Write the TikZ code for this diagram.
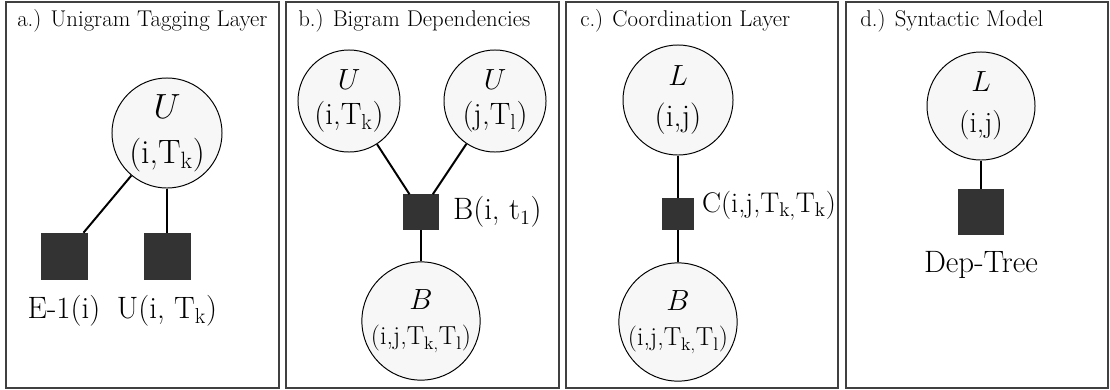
\documentclass[tikz,border=0pt]{standalone}
\usepackage{fontspec}
\usepackage{tikz}
\usetikzlibrary{positioning}

\tikzset{
	var/.style={circle,draw=black,line width=0.7pt,fill=black!3,inner sep=0pt,align=center},
	factor/.style={rectangle,draw=black!80,fill=black!80,inner sep=0pt},
	edge/.style={line width=1.4pt},
	panel/.style={draw=black!75,line width=1.1pt},
	ttl/.style={anchor=west,inner sep=0pt,font=\fontsize{16.2}{19}\selectfont},
	lbl/.style={inner sep=0pt,font=\fontsize{22}{26}\selectfont}
}
\newcommand{\bigvar}[1]{{\fontsize{22}{25}\selectfont$#1$}}

\begin{document}
\begin{tikzpicture}[x=0.025cm,y=-0.025cm]
	\useasboundingbox (0,0) rectangle (1110,389);

	% panels
	\draw [panel] (6,2) rectangle (279,388);
	\draw [panel] (286,2) rectangle (559,388);
	\draw [panel] (566,2) rectangle (838,388);
	\draw [panel] (846,2) rectangle (1108,388);

	\node [ttl] (ta) at (17,21) {a.) Unigram Tagging Layer};
	\node [ttl] (tb) at (298,21) {b.) Bigram Dependencies};
	\node [ttl] (tc) at (580,21) {c.) Coordination Layer};
	\node [ttl] (td) at (860,21) {d.) Syntactic Model};

	% a.)
	\node [var,minimum size=2.75cm,font=\fontsize{24}{32}\selectfont] (ua) at (167,133) {$U$\\(i,T$_\mathrm{k}$)};
	\node [factor,minimum size=1.15cm] (ea) at (64,256) {};
	\node [factor,minimum size=1.15cm] (fa) at (167,256) {};
	\node [lbl,below=0.4cm of ea] (lea) {E-1(i)};
	\node [lbl,below=0.4cm of fa] (lfa) {U(i, T$_\mathrm{k}$)};
	\draw [edge] (ua) -- (ea);
	\draw [edge] (ua) -- (fa);

	% b.)
	\node [var,minimum size=2.55cm,font=\fontsize{22}{25}\selectfont] (ub1) at (349,101) {$U$\\(i,T$_\mathrm{k}$)};
	\node [var,minimum size=2.55cm,font=\fontsize{22}{25}\selectfont] (ub2) at (495,101) {$U$\\(j,T$_\mathrm{l}$)};
	\node [factor,minimum size=0.875cm] (fb) at (421,212) {};
	\node [lbl,right=0.35cm of fb] (lfb) {B(i, t$_1$)};
	\node [var,minimum size=2.55cm,font=\fontsize{18.5}{25}\selectfont] (bb) at (421,321) {\bigvar{B}\\(i,j,T$_{\mathrm{k},}$T$_\mathrm{l}$)};
	\draw [edge] (ub1) -- (fb);
	\draw [edge] (ub2) -- (fb);
	\draw [edge] (fb) -- (bb);

	% c.)
	\node [var,minimum size=2.75cm,font=\fontsize{22.4}{29}\selectfont] (lc) at (678,100) {$L$\\(i,j)};
	\node [factor,minimum size=0.78cm] (fc) at (678,214) {};
	\node [lbl,right=0.2cm of fc,yshift=0.2cm,font=\fontsize{20.2}{24}\selectfont] (lfc) {C(i,j,T$_{\mathrm{k},}$T$_\mathrm{k}$)};
	\node [var,minimum size=2.6cm,font=\fontsize{18.5}{25}\selectfont] (bc) at (678,322) {\bigvar{B}\\(i,j,T$_{\mathrm{k},}$T$_\mathrm{l}$)};
	\draw [edge] (lc) -- (fc);
	\draw [edge] (fc) -- (bc);

	% d.)
	\node [var,minimum size=2.7cm,font=\fontsize{21}{29}\selectfont] (ld) at (981,106) {$L$\\(i,j)};
	\node [factor,minimum size=1.125cm] (fd) at (981,212) {};
	\node [lbl,below=0.4cm of fd] (lfd) {Dep-Tree};
	\draw [edge] (ld) -- (fd);
\end{tikzpicture}
\end{document}
